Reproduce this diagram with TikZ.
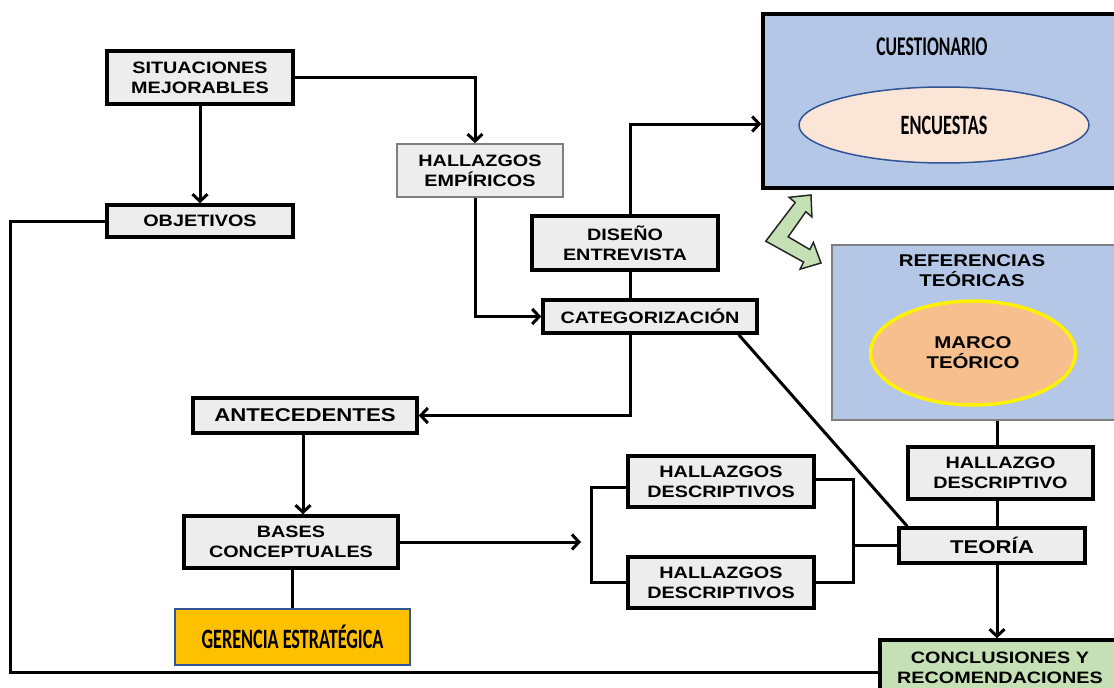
\documentclass[tikz,border=0pt]{standalone}
\usepackage{fontspec}
\usetikzlibrary{arrows.meta,shapes.geometric,calc}
\newfontfamily\arb[FakeStretch=1.2]{Liberation Sans}
\newfontfamily\calfont[FakeStretch=0.65]{Carlito Bold}
\definecolor{boxgray}{HTML}{EDEDED}
\definecolor{qblue}{HTML}{B4C7E7}
\definecolor{encf}{HTML}{FBE5D6}
\definecolor{encb}{HTML}{2F5597}
\definecolor{marcof}{HTML}{F7BE8E}
\definecolor{cgreen}{HTML}{C5E0B4}
\definecolor{gold}{HTML}{FFC000}
\definecolor{refgray}{HTML}{7F7F7F}
\tikzset{
  box/.style={draw, line width=3.5pt, fill=boxgray, inner sep=0pt, align=center,
    font=\arb\bfseries\fontsize{16.5}{20}\selectfont},
  bigtxt/.style={font=\arb\bfseries\fontsize{18.5}{22}\selectfont},
  tbox/.style={box, draw=refgray, line width=1.8pt},
  arr/.style={-{Straight Barb[length=7pt,width=15pt]}, line width=3pt},
  conn/.style={line width=3pt},
  ctext/.style={inner sep=0pt, align=center, font=\calfont\fontsize{28}{32}\selectfont},
  atext/.style={inner sep=0pt, align=center, font=\arb\bfseries\fontsize{17}{20}\selectfont}
}
\begin{document}
\begin{tikzpicture}[x=1pt,y=-1pt]
\useasboundingbox (0,0) rectangle (1114,688);
\clip (0,0) rectangle (1114,688);
% boxes
\node[box, minimum width=186pt, minimum height=53pt] (sit) at (200,77.5) {SITUACIONES\\MEJORABLES};
\node[box, minimum width=186pt, minimum height=32pt] (obj) at (200,221) {OBJETIVOS};
\node[tbox, minimum width=166pt, minimum height=53pt] (hemp) at (480,170.5) {HALLAZGOS\\EMPÍRICOS};
\node[box, minimum width=186pt, minimum height=54pt] (dis) at (625,243) {DISEÑO\\ENTREVISTA};
\node[box, minimum width=214pt, minimum height=33pt] (cat) at (650,316.5) {CATEGORIZACIÓN};
% cuestionario
\node[draw, line width=3.5pt, fill=qblue, minimum width=353pt, minimum height=174pt, inner sep=0pt] (cues) at (939.5,101) {};
\node[ctext, font=\calfont\fontsize{27}{30}\selectfont] (cuest) at (932,47) {CUESTIONARIO};
\node[ellipse, draw=encb, line width=1.5pt, fill=encf, minimum width=290pt, minimum height=76pt, ctext] (enc) at (944,125) {ENCUESTAS};
% referencias
\node[draw=refgray, line width=1.8pt, fill=qblue, minimum width=284pt, minimum height=175pt, inner sep=0pt] (ref) at (974,332.5) {};
\node[atext] (reft) at (972,271) {REFERENCIAS\\TEÓRICAS};
\node[ellipse, draw=yellow, line width=3.5pt, fill=marcof, minimum width=205pt, minimum height=104pt, atext] (marco) at (973,353) {MARCO\\TEÓRICO};
% green double arrow
\draw[fill=cgreen, draw=black!85, line width=1.5pt, line join=miter]
  (811,195) -- (811.9,216.9) -- (805.8,211.7) -- (788.2,236.8) -- (809.8,249.5)
  -- (813.4,242.4) -- (821,263) -- (800.0,269.2) -- (803.6,262.1) -- (765.8,241.2)
  -- (795.2,202.5) -- (789.1,197.3) -- cycle;
% lower left
\node[box, bigtxt, minimum width=224pt, minimum height=35pt] (ant) at (305,415.5) {ANTECEDENTES};
\node[box, minimum width=214pt, minimum height=52pt] (bases) at (291,542) {BASES\\CONCEPTUALES};
\node[draw=encb, line width=1.5pt, fill=gold, minimum width=235pt, minimum height=56pt, ctext] (ger) at (292.5,637) {GERENCIA ESTRATÉGICA};
% right side
\node[box, minimum width=186pt, minimum height=51pt] (hd1) at (721,481.5) {HALLAZGOS\\DESCRIPTIVOS};
\node[box, minimum width=186pt, minimum height=51pt] (hd2) at (721,582.5) {HALLAZGOS\\DESCRIPTIVOS};
\node[box, minimum width=185pt, minimum height=52pt] (hdesc) at (1000.5,473) {HALLAZGO\\DESCRIPTIVO};
\node[box, bigtxt, minimum width=186pt, minimum height=35pt] (teo) at (992,545.5) {TEORÍA};
\node[box, fill=cgreen, minimum width=240pt, minimum height=56pt] (concl) at (1000,668) {CONCLUSIONES Y\\RECOMENDACIONES};
% helper coordinates
\coordinate (vx) at (997,0);
\coordinate (vc) at (630,0);
\coordinate (lc) at (10,672);
\coordinate (bl) at (581,542);
\coordinate (lb) at (591,0);
\coordinate (rb) at (853,0);
% connectors
\draw[arr] (sit.east) -| ($(hemp.north)+(-5,0)$);
\draw[arr] (sit.south) -- (obj.north);
\draw[arr] ($(hemp.south)+(-5,0)$) |- (cat.west);
\draw[conn] (dis.south -| vc) -- (cat.north -| vc);
\draw[arr] (dis.north -| vc) |- ($(cues.west)+(0,23)$);
\draw[arr] (cat.south -| vc) |- (ant.east);
\draw[arr] ($(ant.south)+(-2,0)$) -- ($(bases.north -| ant.south)+(-2,0)$);
\draw[conn] (bases.south -| ger.north) -- (ger.north);
\draw[arr] (bases.east |- bl) -- (bl);
\draw[conn] ($(hd1.west)+(0,6)$) -| (lb |- hd2.west) -- (hd2.west);
\draw[conn] ($(hd1.east)+(0,-2)$) -| (rb |- hd2.east) -- (hd2.east);
\draw[conn] (rb |- teo.west) -- (teo.west);
\draw[conn] ($(cat.south east)+(-20,0)$) -- ($(teo.north west)+(10,0)$);
\draw[conn] (ref.south -| vx) -- (hdesc.north -| vx);
\draw[conn] (hdesc.south -| vx) -- (teo.north -| vx);
\draw[arr] (teo.south -| vx) -- (concl.north -| vx);
\draw[conn] (obj.west) -| (lc) -- (lc -| concl.west);
\end{tikzpicture}
\end{document}
